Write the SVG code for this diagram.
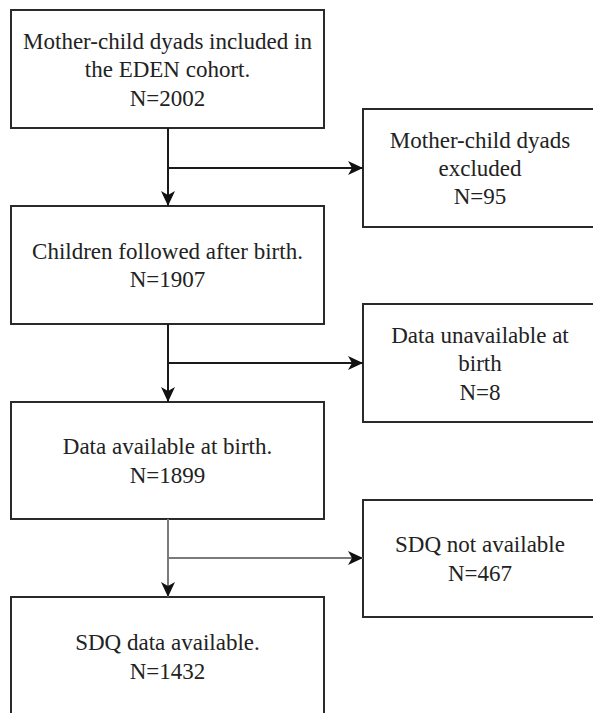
<svg xmlns="http://www.w3.org/2000/svg" width="593" height="713" viewBox="0 0 593 713">
<style>
.box{fill:#fff;stroke:#2a2a2a;stroke-width:2}
.t{font-family:'Liberation Serif','Tinos','DejaVu Serif',serif;font-size:23px;fill:#222;text-anchor:middle}
.c{fill:none;stroke:#1a1a1a;stroke-width:2}
.cg{fill:none;stroke:#7a7a7a;stroke-width:2}
</style>
<defs>
<marker id="ah" markerUnits="userSpaceOnUse" markerWidth="16" markerHeight="16" viewBox="0 0 16 16" refX="15" refY="8" orient="auto">
<path d="M0,1 L15,8 L0,15 L4,8 z" fill="#111"/>
</marker>
</defs>
<rect width="593" height="713" fill="#fff"/>
<g id="n1"><rect class="box" x="11" y="10" width="313" height="118"/>
<text class="t" font-family="Liberation Serif, serif" x="167.5" y="48.5">Mother-child dyads included in</text>
<text class="t" font-family="Liberation Serif, serif" x="167.5" y="77">the EDEN cohort.</text>
<text class="t" font-family="Liberation Serif, serif" x="167.5" y="105.5">N=2002</text></g>
<g id="n2"><rect class="box" x="11" y="206" width="313" height="118"/>
<text class="t" x="167.5" y="258.5">Children followed after birth.</text>
<text class="t" x="167.5" y="287">N=1907</text></g>
<g id="n3"><rect class="box" x="11" y="402" width="313" height="117"/>
<text class="t" x="167.5" y="454">Data available at birth.</text>
<text class="t" x="167.5" y="482.5">N=1899</text></g>
<g id="n4"><rect class="box" x="11" y="597" width="313" height="120"/>
<text class="t" x="167.5" y="650">SDQ data available.</text>
<text class="t" x="167.5" y="678.5">N=1432</text></g>
<g id="r1"><rect class="box" x="363" y="109" width="234" height="118"/>
<text class="t" x="480" y="147.5">Mother-child dyads</text>
<text class="t" x="480" y="176">excluded</text>
<text class="t" x="480" y="204">N=95</text></g>
<g id="r2"><rect class="box" x="363" y="304" width="234" height="118"/>
<text class="t" x="480" y="342.5">Data unavailable at</text>
<text class="t" x="480" y="371">birth</text>
<text class="t" x="480" y="399.5">N=8</text></g>
<g id="r3"><rect class="box" x="363" y="500" width="234" height="117"/>
<text class="t" x="480" y="552">SDQ not available</text>
<text class="t" x="480" y="580.5">N=467</text></g>
<g id="connectors">
<path class="c" d="M168,128 V206" marker-end="url(#ah)"/>
<path class="c" d="M168,168 H363" marker-end="url(#ah)"/>
<path class="c" d="M168,324 V402" marker-end="url(#ah)"/>
<path class="c" d="M168,363 H363" marker-end="url(#ah)"/>
<path class="cg" d="M168,519 V597" marker-end="url(#ah)"/>
<path class="cg" d="M168,558 H363" marker-end="url(#ah)"/>
</g>
</svg>
